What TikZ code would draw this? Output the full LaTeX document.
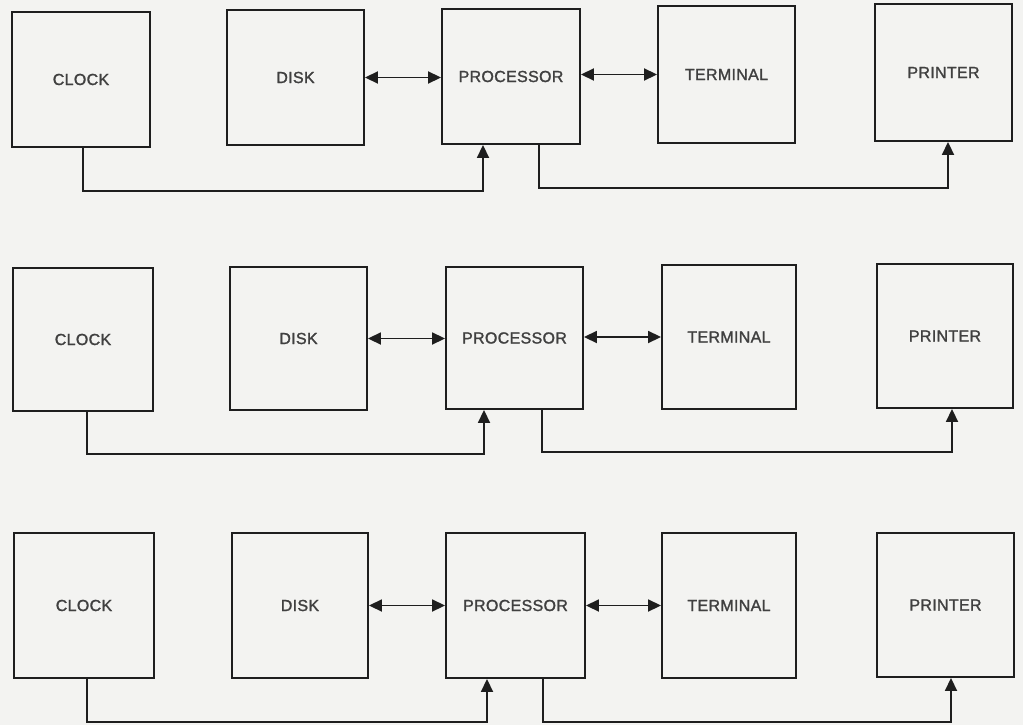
\documentclass[tikz,border=0pt]{standalone}
\usepackage{fontspec}
\setmainfont{Liberation Sans}[LetterSpace=2.0,FakeBold=1.5]
\usetikzlibrary{arrows.meta}
\definecolor{paper}{HTML}{F3F3F1}
\definecolor{ink}{HTML}{1E1E1E}
\tikzset{
  blk/.style={draw=ink, line width=1.9pt, rectangle, inner sep=0pt,
    font=\fontsize{16}{19}\selectfont, text=ink!85},
  tip/.style={Triangle[length=13pt,width=12pt]},
  link/.style={draw=ink, line width=1.8pt, -{Triangle[length=13pt,width=12pt]}},
  duplex/.style={draw=ink, line width=1.8pt, {Triangle[length=13pt,width=12pt]}-{Triangle[length=13pt,width=12pt]}}
}
\begin{document}
\begin{tikzpicture}[x=1pt,y=-1pt]
\fill[paper] (0,0) rectangle (1023,725);
\useasboundingbox (0,0) rectangle (1023,725);

% Row 1
\node[blk, minimum width=138pt, minimum height=135pt] (c1) at (81,79.5) {CLOCK};
\node[blk, minimum width=137pt, minimum height=135pt] (d1) at (295.5,77.5) {DISK};
\node[blk, minimum width=138pt, minimum height=135pt] (p1) at (511,76.5) {PROCESSOR};
\node[blk, minimum width=137pt, minimum height=137pt] (t1) at (726.5,74.5) {TERMINAL};
\node[blk, minimum width=137pt, minimum height=137pt] (r1) at (943.5,72.5) {PRINTER};
\coordinate (a1) at (83,191);
\coordinate (b1) at (483,191);
\coordinate (e1) at (539,188);
\coordinate (f1) at (948,188);
\draw[duplex] (d1.east) -- (d1.east -| p1.west);
\draw[duplex] (t1.west -| p1.east) -- (t1.west);
\draw[link] (c1.south -| a1) -- (a1) -- (b1) -- (b1 |- p1.south);
\draw[link] (p1.south -| e1) -- (e1) -- (f1) -- (f1 |- r1.south);

% Row 2
\node[blk, minimum width=140pt, minimum height=143pt] (c2) at (83,339.5) {CLOCK};
\node[blk, minimum width=137pt, minimum height=143pt] (d2) at (298.5,338.5) {DISK};
\node[blk, minimum width=137pt, minimum height=142pt] (p2) at (514.5,338) {PROCESSOR};
\node[blk, minimum width=134pt, minimum height=144pt] (t2) at (729,337) {TERMINAL};
\node[blk, minimum width=136pt, minimum height=144pt] (r2) at (945,336) {PRINTER};
\coordinate (a2) at (87,454);
\coordinate (b2) at (484,454);
\coordinate (e2) at (542,452);
\coordinate (f2) at (952,452);
\draw[duplex] (d2.east) -- (d2.east -| p2.west);
\draw[duplex] (t2.west -| p2.east) -- (t2.west);
\draw[link] (c2.south -| a2) -- (a2) -- (b2) -- (b2 |- p2.south);
\draw[link] (p2.south -| e2) -- (e2) -- (f2) -- (f2 |- r2.south);

% Row 3
\node[blk, minimum width=140pt, minimum height=145pt] (c3) at (84,605.5) {CLOCK};
\node[blk, minimum width=136pt, minimum height=145pt] (d3) at (300,605.5) {DISK};
\node[blk, minimum width=139pt, minimum height=145pt] (p3) at (515.5,605.5) {PROCESSOR};
\node[blk, minimum width=134pt, minimum height=145pt] (t3) at (729,605.5) {TERMINAL};
\node[blk, minimum width=137pt, minimum height=144pt] (r3) at (945.5,605) {PRINTER};
\coordinate (a3) at (87,722);
\coordinate (b3) at (487,722);
\coordinate (e3) at (543,722);
\coordinate (f3) at (951,722);
\draw[duplex] (d3.east) -- (d3.east -| p3.west);
\draw[duplex] (t3.west -| p3.east) -- (t3.west);
\draw[link] (c3.south -| a3) -- (a3) -- (b3) -- (b3 |- p3.south);
\draw[link] (p3.south -| e3) -- (e3) -- (f3) -- (f3 |- r3.south);
\end{tikzpicture}
\end{document}
